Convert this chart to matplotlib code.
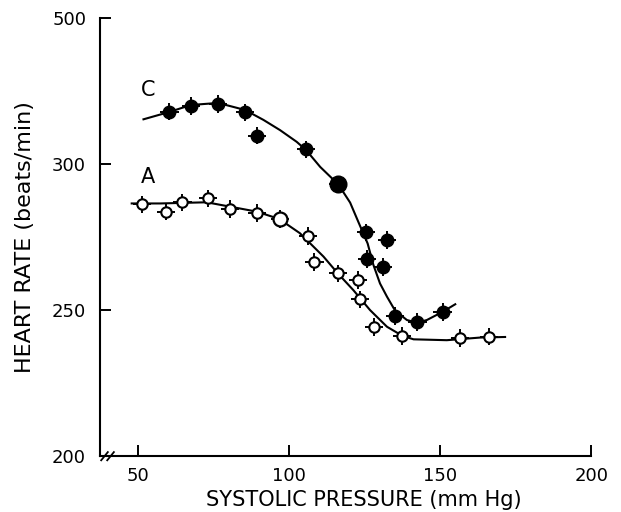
import matplotlib.pyplot as plt
import numpy as np

# curve C (filled symbols)
c_x = [60.4, 67.5, 76.6, 85.4, 89.3, 105.5, 116.3, 125.5, 132.5, 125.9, 131.2, 135.1, 142.5, 150.8]
c_y = [317.9, 319.9, 320.5, 317.7, 309.7, 305.0, 293.0, 276.6, 274.0, 267.5, 264.8, 247.9, 246.0, 249.4]
# curve A (open symbols)
a_x = [51.4, 59.2, 64.7, 73.3, 80.5, 89.3, 97.0, 106.4, 108.4, 116.1, 122.7, 123.5, 128.1, 137.5, 156.7, 166.3]
a_y = [286.2, 283.7, 286.9, 288.2, 284.6, 283.3, 281.2, 275.3, 266.4, 262.6, 260.3, 253.7, 244.3, 241.2, 240.4, 240.9]

# hand drawn fitted lines
c_line_x = [51.8, 60.3, 67.5, 76.5, 85.4, 91.5, 97.0, 102.5, 105.6, 110.3, 116.3, 120.2, 123.0, 126.0,
            127.9, 130.1, 132.4, 135.1, 139.0, 142.3, 145.6, 150.8, 155.0]
c_line_y = [315.3, 317.8, 320.2, 320.9, 318.5, 315.1, 311.6, 307.6, 304.8, 299.0, 293.0, 286.8, 280.0, 272.8,
            265.5, 259.1, 254.6, 249.8, 246.6, 245.7, 246.6, 249.4, 252.0]
a_line_x = [47.9, 57.3, 72.7, 80.5, 89.3, 96.7, 103.6, 111.4, 116.1, 121.3, 126.8, 132.4, 137.5, 141.2,
            152.2, 163.2, 171.5]
a_line_y = [286.5, 286.5, 286.9, 285.4, 283.7, 281.2, 276.3, 268.3, 262.6, 256.8, 250.0, 244.3, 241.2, 240.0,
            239.7, 240.6, 240.8]

x_err = 3.0
y_err = 3.0
big_c = 6  # the larger symbols
big_a = 6

xticks = [50, 100, 150, 200]
yticks = [200, 250, 300, 350]
ytick_labels = ['200', '250', '300', '500']

fig = plt.figure(figsize=(6.21, 5.12), dpi=100)
ax = fig.add_axes([0.161, 0.109, 0.791, 0.856])

ax.plot(c_line_x, c_line_y, color='black', lw=1.5, zorder=2)
ax.plot(a_line_x, a_line_y, color='black', lw=1.5, zorder=2)

ax.errorbar(c_x, c_y, xerr=x_err, yerr=y_err, fmt='none', ecolor='black', elinewidth=1.4, capsize=0, zorder=3)
ax.errorbar(a_x, a_y, xerr=x_err, yerr=y_err, fmt='none', ecolor='black', elinewidth=1.4, capsize=0, zorder=3)

small_c = [i for i in range(len(c_x)) if i != big_c]
small_a = [i for i in range(len(a_x)) if i != big_a]
ax.plot(np.array(c_x)[small_c], np.array(c_y)[small_c], 'o', ms=9, mfc='black', mec='black', zorder=4)
ax.plot(c_x[big_c], c_y[big_c], 'o', ms=12, mfc='black', mec='black', zorder=4)
ax.plot(np.array(a_x)[small_a], np.array(a_y)[small_a], 'o', ms=7.5, mfc='white', mec='black', mew=1.5, zorder=4)
ax.plot(a_x[big_a], a_y[big_a], 'o', ms=10, mfc='white', mec='black', mew=1.6, zorder=4)

ax.text(53.4, 325.3, 'C', fontsize=15, ha='center', va='center')
ax.text(53.4, 295.6, 'A', fontsize=15, ha='center', va='center')

ax.set_xlim(37.4, 200)
ax.set_ylim(200, 350)
ax.set_xticks(xticks)
ax.set_yticks(yticks)
ax.set_yticklabels(ytick_labels)
ax.tick_params(direction='in', length=8, width=1.4, labelsize=13)
ax.tick_params(axis='x', pad=8)
ax.tick_params(axis='y', pad=10)
for s in ['top', 'right']:
    ax.spines[s].set_visible(False)
for s in ['left', 'bottom']:
    ax.spines[s].set_linewidth(1.5)

# axis break marks
for bx in [38.9, 40.9]:
    ax.plot([bx - 1.1, bx + 1.1], [198.6, 201.4], color='black', lw=1.3, clip_on=False, zorder=5)

ax.set_xlabel('SYSTOLIC PRESSURE (mm Hg)', fontsize=15, va='center')
ax.xaxis.set_label_coords(0.538, -0.100)
ax.set_ylabel('HEART RATE (beats/min)', fontsize=16, va='center', ha='center')
ax.yaxis.set_label_coords(-0.153, 0.5)

fig.savefig('out.png', dpi=100)
